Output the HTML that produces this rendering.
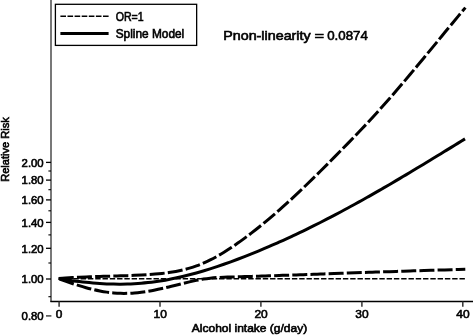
<!DOCTYPE html>
<html><head><meta charset="utf-8"><style>
html,body{margin:0;padding:0;background:#fff;}
svg{display:block;will-change:transform;font-family:"Liberation Sans",sans-serif;}
text{fill:#000;stroke:#000;stroke-width:0.6px;}
</style></head><body>
<svg width="473" height="335" viewBox="0 0 473 335">
<rect width="473" height="335" fill="#fff"/>
<line x1="51" x2="51" y1="0" y2="302.1" stroke="#787878" stroke-width="2"/>
<line x1="50.4" x2="473" y1="301.45" y2="301.45" stroke="#000" stroke-width="1.4"/>
<g stroke="#000" stroke-width="1.3" fill="none"><line x1="46" x2="51" y1="279.0" y2="279.0"/><line x1="46" x2="51" y1="248.3" y2="248.3"/><line x1="46" x2="51" y1="222.4" y2="222.4"/><line x1="46" x2="51" y1="199.9" y2="199.9"/><line x1="46" x2="51" y1="180.1" y2="180.1"/><line x1="46" x2="51" y1="162.4" y2="162.4"/><line x1="48.4" x2="51" y1="296.7" y2="296.7" stroke-width="1.1"/><line x1="48.4" x2="51" y1="263.0" y2="263.0" stroke-width="1.1"/><line x1="48.4" x2="51" y1="234.9" y2="234.9" stroke-width="1.1"/><line x1="48.4" x2="51" y1="210.8" y2="210.8" stroke-width="1.1"/><line x1="48.4" x2="51" y1="189.7" y2="189.7" stroke-width="1.1"/><line x1="48.4" x2="51" y1="171.0" y2="171.0" stroke-width="1.1"/><line x1="46" x2="51.4" y1="315.9" y2="315.9" stroke-width="1.5" stroke="#444"/><line x1="59.1" x2="59.1" y1="301.4" y2="306.7" stroke-width="1.5" stroke="#333"/><line x1="160.0" x2="160.0" y1="301.4" y2="306.7" stroke-width="1.5" stroke="#333"/><line x1="260.9" x2="260.9" y1="301.4" y2="306.7" stroke-width="1.5" stroke="#333"/><line x1="361.9" x2="361.9" y1="301.4" y2="306.7" stroke-width="1.5" stroke="#333"/><line x1="462.8" x2="462.8" y1="301.4" y2="306.7" stroke-width="1.5" stroke="#333"/></g>
<g font-size="11"><text x="43.7" y="319.9" text-anchor="end" textLength="22.1" lengthAdjust="spacingAndGlyphs">0.80</text><text x="43.7" y="283.3" text-anchor="end" textLength="22.1" lengthAdjust="spacingAndGlyphs">1.00</text><text x="43.7" y="252.6" text-anchor="end" textLength="22.1" lengthAdjust="spacingAndGlyphs">1.20</text><text x="43.7" y="226.7" text-anchor="end" textLength="22.1" lengthAdjust="spacingAndGlyphs">1.40</text><text x="43.7" y="204.2" text-anchor="end" textLength="22.1" lengthAdjust="spacingAndGlyphs">1.60</text><text x="43.7" y="184.4" text-anchor="end" textLength="22.1" lengthAdjust="spacingAndGlyphs">1.80</text><text x="43.7" y="166.7" text-anchor="end" textLength="22.1" lengthAdjust="spacingAndGlyphs">2.00</text><text x="59.0" y="318.4" font-size="11.5" text-anchor="middle" textLength="6.6" lengthAdjust="spacingAndGlyphs">0</text><text x="160.2" y="318.4" font-size="11.5" text-anchor="middle" textLength="13.3" lengthAdjust="spacingAndGlyphs">10</text><text x="261.1" y="318.4" font-size="11.5" text-anchor="middle" textLength="13.3" lengthAdjust="spacingAndGlyphs">20</text><text x="362.0" y="318.4" font-size="11.5" text-anchor="middle" textLength="13.3" lengthAdjust="spacingAndGlyphs">30</text><text x="462.9" y="318.4" font-size="11.5" text-anchor="middle" textLength="13.3" lengthAdjust="spacingAndGlyphs">40</text></g>
<rect x="55.4" y="4.3" width="141.25" height="41.1" fill="#fff" stroke="#000" stroke-width="1.3"/>
<line x1="60.4" x2="108.6" y1="16.2" y2="16.2" stroke="#000" stroke-width="1.6" stroke-dasharray="5.6 1.5"/>
<line x1="60.4" x2="108.6" y1="33.5" y2="33.5" stroke="#000" stroke-width="3"/>
<g font-size="12">
<text x="115.7" y="21" textLength="28" lengthAdjust="spacingAndGlyphs">OR=1</text>
<text x="115.7" y="38.2" textLength="68.5" lengthAdjust="spacingAndGlyphs">Spline Model</text>
</g>
<g font-size="13"><text x="223.2" y="40.1" textLength="87.5" lengthAdjust="spacingAndGlyphs">Pnon-linearity</text><text x="314.6" y="40.1" textLength="9.6" lengthAdjust="spacingAndGlyphs">=</text><text x="327.2" y="40.1" textLength="40.6" lengthAdjust="spacingAndGlyphs">0.0874</text></g>
<text transform="translate(8.9 181.8) rotate(-90)" font-size="10.5" textLength="64.6" lengthAdjust="spacingAndGlyphs">Relative Risk</text>
<text x="191.8" y="332" font-size="11" textLength="115.4" lengthAdjust="spacingAndGlyphs">Alcohol intake (g/day)</text>
<line x1="58.8" x2="465" y1="278.7" y2="278.7" stroke="#000" stroke-width="1.5" stroke-dasharray="5.4 1.885"/>
<g stroke="#000" stroke-width="3" fill="none">
<path d="M58.50 278.60 C60.80 278.40 63.10 278.21 65.40 278.05 C67.70 277.88 69.99 277.73 72.29 277.59 C74.59 277.45 76.89 277.33 79.19 277.22 C81.49 277.11 83.79 277.00 86.09 276.91 C88.39 276.82 90.68 276.74 92.98 276.66 C95.28 276.58 97.58 276.51 99.88 276.44 C102.18 276.38 104.48 276.31 106.78 276.25 C109.08 276.18 111.37 276.12 113.67 276.06 C115.97 275.99 118.27 275.92 120.57 275.85 C122.87 275.78 125.17 275.71 127.47 275.63 C129.76 275.54 132.06 275.45 134.36 275.35 C136.66 275.26 138.96 275.15 141.26 275.03 C143.56 274.91 145.86 274.77 148.16 274.62 C150.45 274.47 152.75 274.31 155.05 274.11 C157.35 273.92 159.65 273.70 161.95 273.44 C164.25 273.19 166.55 272.90 168.85 272.56 C171.14 272.23 173.44 271.85 175.74 271.42 C178.04 270.98 180.34 270.50 182.64 269.95 C184.94 269.40 187.24 268.80 189.54 268.12 C191.83 267.44 194.13 266.69 196.43 265.86 C198.73 265.03 201.03 264.12 203.33 263.12 C205.63 262.13 207.93 261.06 210.23 259.91 C212.52 258.76 214.82 257.54 217.12 256.26 C219.42 254.97 221.72 253.62 224.02 252.20 C226.32 250.79 228.62 249.32 230.92 247.80 C233.21 246.27 235.51 244.70 237.81 243.08 C240.11 241.46 242.41 239.79 244.71 238.09 C247.01 236.39 249.31 234.65 251.61 232.88 C253.90 231.11 256.20 229.31 258.50 227.47 C260.80 225.64 263.10 223.77 265.40 221.87 C267.70 219.98 270.00 218.05 272.29 216.09 C274.59 214.13 276.89 212.14 279.19 210.12 C281.49 208.10 283.79 206.05 286.09 203.97 C288.39 201.89 290.69 199.78 292.98 197.64 C295.28 195.50 297.58 193.33 299.88 191.14 C302.18 188.95 304.48 186.74 306.78 184.51 C309.08 182.28 311.38 180.03 313.67 177.77 C315.97 175.51 318.27 173.24 320.57 170.96 C322.87 168.67 325.17 166.38 327.47 164.08 C329.77 161.78 332.07 159.47 334.36 157.15 C336.66 154.83 338.96 152.51 341.26 150.17 C343.56 147.83 345.86 145.49 348.16 143.13 C350.46 140.77 352.76 138.40 355.05 136.01 C357.35 133.62 359.65 131.21 361.95 128.79 C364.25 126.36 366.55 123.92 368.85 121.45 C371.15 118.98 373.45 116.49 375.74 113.97 C378.04 111.45 380.34 108.90 382.64 106.32 C384.94 103.75 387.24 101.15 389.54 98.52 C391.84 95.89 394.14 93.24 396.43 90.57 C398.73 87.89 401.03 85.20 403.33 82.49 C405.63 79.78 407.93 77.05 410.23 74.31 C412.53 71.57 414.82 68.81 417.12 66.04 C419.42 63.28 421.72 60.50 424.02 57.72 C426.32 54.93 428.62 52.14 430.92 49.35 C433.22 46.55 435.51 43.75 437.81 40.96 C440.11 38.16 442.41 35.36 444.71 32.56 C447.01 29.77 449.31 26.98 451.61 24.19 C453.91 21.41 456.20 18.63 458.50 15.86 C460.80 13.09 463.10 10.34 465.40 7.59" stroke-dasharray="15 3.2" stroke-dashoffset="-0.3"/>
<path d="M58.50 278.60 C60.80 279.45 63.10 280.28 65.39 281.09 C67.69 281.91 69.99 282.70 72.29 283.46 C74.59 284.23 76.89 284.97 79.18 285.68 C81.48 286.38 83.78 287.05 86.08 287.69 C88.38 288.32 90.68 288.91 92.97 289.46 C95.27 290.00 97.57 290.50 99.87 290.95 C102.17 291.39 104.47 291.79 106.76 292.12 C109.06 292.45 111.36 292.73 113.66 292.93 C115.96 293.14 118.26 293.28 120.55 293.35 C122.85 293.42 125.15 293.42 127.45 293.35 C129.75 293.28 132.05 293.15 134.34 292.96 C136.64 292.77 138.94 292.53 141.24 292.24 C143.54 291.95 145.84 291.61 148.13 291.23 C150.43 290.86 152.73 290.44 155.03 289.99 C157.33 289.54 159.63 289.05 161.92 288.55 C164.22 288.04 166.52 287.51 168.82 286.97 C171.12 286.42 173.42 285.86 175.71 285.29 C178.01 284.72 180.31 284.14 182.61 283.56 C184.91 282.99 187.21 282.42 189.50 281.87 C191.80 281.32 194.10 280.81 196.40 280.33 C198.70 279.86 200.99 279.44 203.29 279.07 C205.59 278.71 207.89 278.41 210.19 278.16 C212.49 277.92 214.78 277.73 217.08 277.58 C219.38 277.43 221.68 277.32 223.98 277.23 C226.28 277.14 228.57 277.07 230.87 277.01 C233.17 276.94 235.47 276.87 237.77 276.80 C240.07 276.73 242.36 276.66 244.66 276.59 C246.96 276.52 249.26 276.45 251.56 276.38 C253.86 276.30 256.15 276.23 258.45 276.16 C260.75 276.08 263.05 276.01 265.35 275.93 C267.65 275.86 269.94 275.78 272.24 275.71 C274.54 275.63 276.84 275.55 279.14 275.48 C281.44 275.40 283.73 275.32 286.03 275.24 C288.33 275.16 290.63 275.09 292.93 275.01 C295.23 274.93 297.52 274.85 299.82 274.77 C302.12 274.69 304.42 274.61 306.72 274.53 C309.02 274.45 311.31 274.37 313.61 274.29 C315.91 274.21 318.21 274.13 320.51 274.05 C322.81 273.97 325.10 273.89 327.40 273.80 C329.70 273.72 332.00 273.64 334.30 273.56 C336.59 273.48 338.89 273.40 341.19 273.32 C343.49 273.24 345.79 273.16 348.09 273.07 C350.38 272.99 352.68 272.91 354.98 272.83 C357.28 272.75 359.58 272.67 361.88 272.59 C364.17 272.51 366.47 272.43 368.77 272.35 C371.07 272.27 373.37 272.19 375.67 272.11 C377.96 272.03 380.26 271.95 382.56 271.87 C384.86 271.79 387.16 271.72 389.46 271.64 C391.75 271.56 394.05 271.48 396.35 271.41 C398.65 271.33 400.95 271.25 403.25 271.18 C405.54 271.10 407.84 271.02 410.14 270.95 C412.44 270.88 414.74 270.80 417.04 270.73 C419.33 270.65 421.63 270.58 423.93 270.51 C426.23 270.44 428.53 270.37 430.83 270.29 C433.12 270.22 435.42 270.15 437.72 270.08 C440.02 270.02 442.32 269.95 444.62 269.88 C446.91 269.81 449.21 269.75 451.51 269.68 C453.81 269.62 456.11 269.55 458.41 269.49 C460.70 269.42 463.00 269.36 465.30 269.30" stroke-dasharray="15 3.17" stroke-dashoffset="-1.2"/>
<path d="M58.50 278.60 C60.80 278.98 63.09 279.35 65.39 279.70 C67.69 280.05 69.98 280.39 72.28 280.70 C74.58 281.02 76.87 281.32 79.17 281.59 C81.47 281.87 83.76 282.13 86.06 282.36 C88.36 282.60 90.65 282.81 92.95 283.01 C95.25 283.20 97.54 283.37 99.84 283.51 C102.14 283.66 104.43 283.78 106.73 283.88 C109.03 283.97 111.32 284.04 113.62 284.09 C115.92 284.13 118.21 284.15 120.51 284.14 C122.81 284.13 125.10 284.09 127.40 284.02 C129.69 283.96 131.99 283.86 134.29 283.73 C136.58 283.60 138.88 283.45 141.18 283.26 C143.47 283.07 145.77 282.84 148.07 282.59 C150.36 282.33 152.66 282.04 154.96 281.72 C157.25 281.41 159.55 281.06 161.85 280.68 C164.14 280.30 166.44 279.89 168.74 279.45 C171.03 279.02 173.33 278.55 175.63 278.06 C177.92 277.57 180.22 277.05 182.52 276.51 C184.81 275.96 187.11 275.39 189.41 274.80 C191.70 274.20 194.00 273.59 196.30 272.95 C198.59 272.31 200.89 271.64 203.19 270.96 C205.48 270.27 207.78 269.57 210.08 268.84 C212.37 268.11 214.67 267.37 216.97 266.60 C219.26 265.84 221.56 265.05 223.86 264.25 C226.15 263.45 228.45 262.63 230.75 261.80 C233.04 260.97 235.34 260.12 237.64 259.25 C239.93 258.39 242.23 257.51 244.53 256.61 C246.82 255.72 249.12 254.81 251.42 253.89 C253.71 252.97 256.01 252.04 258.31 251.09 C260.60 250.14 262.90 249.18 265.19 248.20 C267.49 247.23 269.79 246.24 272.08 245.24 C274.38 244.24 276.68 243.23 278.97 242.20 C281.27 241.18 283.57 240.14 285.86 239.09 C288.16 238.04 290.46 236.98 292.75 235.90 C295.05 234.83 297.35 233.74 299.64 232.65 C301.94 231.55 304.24 230.44 306.53 229.32 C308.83 228.20 311.13 227.07 313.42 225.93 C315.72 224.78 318.02 223.63 320.31 222.47 C322.61 221.30 324.91 220.13 327.20 218.94 C329.50 217.76 331.80 216.56 334.09 215.36 C336.39 214.15 338.69 212.94 340.98 211.71 C343.28 210.49 345.58 209.25 347.87 208.01 C350.17 206.77 352.47 205.51 354.76 204.25 C357.06 202.99 359.36 201.72 361.65 200.44 C363.95 199.15 366.25 197.87 368.54 196.57 C370.84 195.27 373.14 193.97 375.43 192.65 C377.73 191.34 380.03 190.02 382.32 188.69 C384.62 187.36 386.92 186.03 389.21 184.69 C391.51 183.35 393.81 182.00 396.10 180.65 C398.40 179.29 400.69 177.93 402.99 176.57 C405.29 175.20 407.58 173.84 409.88 172.46 C412.18 171.09 414.47 169.71 416.77 168.33 C419.07 166.94 421.36 165.56 423.66 164.17 C425.96 162.78 428.25 161.38 430.55 159.98 C432.85 158.59 435.14 157.19 437.44 155.79 C439.74 154.38 442.03 152.98 444.33 151.57 C446.63 150.17 448.92 148.76 451.22 147.35 C453.52 145.94 455.81 144.53 458.11 143.12 C460.41 141.71 462.70 140.30 465.00 138.89"/>
</g>
</svg>
</body></html>
